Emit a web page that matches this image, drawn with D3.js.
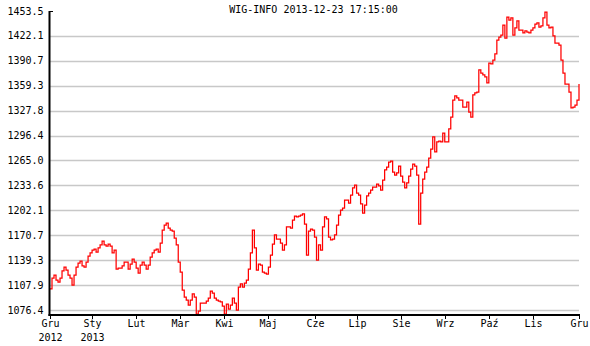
<!DOCTYPE html>
<html>
<head>
	<meta charset="utf-8">
	<title>WIG-INFO</title>
	<style>
		body { margin: 0; background: #fff; }
		text { font-family: "DejaVu Sans Mono", monospace; font-size: 10px; fill: #000; }
	</style>
	<script src="https://cdn.jsdelivr.net/npm/d3@7/dist/d3.min.js"></script>
</head>
<body>
	<script type="text/javascript">

		/************** data *****************/
		var title = "WIG-INFO 2013-12-23 17:15:00";

		// one value per trading day, Dec 2012 .. Dec 23 2013
		var closeValues = [
			1102.9,1116.7,1120.5,1114.2,1111.7,1116.7,1125.6,1130.6,1126.8,1120.5,
			1116.7,1107.9,1120.5,1130.6,1135.6,1138.2,1131.9,1130.6,1136.9,1144.5,
			1148.3,1152.0,1153.3,1149.5,1154.6,1158.4,1163.4,1158.4,1157.1,1159.6,
			1157.1,1148.3,1152.0,1128.1,1129.3,1129.3,1131.9,1136.9,1136.9,1128.1,
			1134.4,1140.7,1136.9,1129.3,1123.0,1133.1,1136.9,1133.1,1128.1,1133.1,
			1143.2,1148.3,1152.0,1153.3,1149.5,1160.9,1177.3,1183.6,1186.1,1179.8,
			1177.3,1176.0,1167.2,1158.4,1136.9,1124.3,1101.6,1092.8,1089.0,1082.7,
			1089.0,1096.6,1092.8,1071.3,1075.1,1085.2,1085.2,1085.2,1087.7,1091.5,
			1100.3,1097.8,1091.5,1089.0,1087.7,1086.5,1081.4,1071.3,1083.9,1077.6,
			1082.7,1091.5,1085.2,1076.4,1105.4,1109.2,1105.4,1110.4,1114.2,1128.1,
			1148.3,1177.3,1154.6,1126.8,1134.4,1133.1,1124.3,1123.0,1121.8,1130.6,
			1145.7,1159.6,1171.0,1165.9,1165.9,1160.9,1152.0,1158.4,1181.1,1181.1,
			1179.8,1189.9,1194.9,1193.7,1194.9,1196.2,1197.5,1184.8,1145.7,1176.0,
			1178.5,1177.3,1168.4,1139.4,1158.4,1152.0,1181.1,1193.7,1191.2,1168.4,
			1164.7,1165.9,1171.0,1183.6,1196.2,1202.5,1205.0,1215.1,1215.1,1211.3,
			1221.4,1230.3,1234.0,1223.9,1221.4,1210.1,1198.7,1208.8,1220.2,1223.9,
			1227.7,1231.5,1231.5,1235.3,1232.8,1227.7,1240.3,1253.0,1256.7,1263.0,
			1264.3,1250.4,1246.6,1249.2,1258.0,1245.4,1237.8,1230.3,1236.6,1245.4,
			1254.2,1260.5,1258.0,1246.6,1184.8,1223.9,1241.6,1250.4,1256.7,1268.1,
			1279.4,1294.6,1275.7,1288.3,1289.5,1288.3,1299.6,1288.3,1288.3,1304.7,
			1319.8,1341.2,1346.3,1343.8,1341.2,1341.2,1332.4,1332.4,1338.7,1326.1,
			1319.8,1347.6,1350.1,1351.3,1379.1,1375.3,1372.8,1370.3,1362.7,1387.9,
			1386.7,1391.7,1399.3,1416.9,1420.7,1423.2,1435.8,1419.4,1445.9,1442.1,
			1444.7,1423.2,1432.1,1440.9,1429.5,1429.5,1425.8,1428.3,1427.0,1425.8,
			1429.5,1432.1,1437.1,1438.4,1433.3,1434.6,1444.7,1452.2,1435.8,1432.1,
			1433.3,1422.0,1413.1,1413.1,1410.6,1391.7,1375.3,1361.4,1361.4,1351.3,
			1331.2,1332.4,1334.9,1341.2,1361.4
		];

		var yTickValues = [1076.4,1107.9,1139.3,1170.7,1202.1,1233.6,1265.0,1296.4,1327.8,1359.3,1390.7,1422.1,1453.5];
		var monthTickDays = [0,21,43,65,87,109,132,153,175,197,219,241,264];
		var monthLabels = ["Gru","Sty","Lut","Mar","Kwi","Maj","Cze","Lip","Sie","Wrz","Paź","Lis","Gru"];
		var yearLabels = ["2012","2013","","","","","","","","","","",""];

		/************** layout *****************/
		var width = 590, height = 346;
		var margin = {top: 11, right: 11, bottom: 31, left: 50};

		var svg = d3.select("body").append("svg")
			.attr("width", width)
			.attr("height", height);

		var x = d3.scaleLinear()
			.domain([0, closeValues.length - 1])
			.range([margin.left, width - margin.right]);

		var y = d3.scaleLinear()
			.domain([1070.1, 1453.5])
			.range([height - margin.bottom, margin.top]);

		// grid lines (not on the top value)
		svg.append("g").selectAll("line")
			.data(yTickValues.slice(0, -1))
			.enter().append("line")
			.attr("x1", margin.left)
			.attr("x2", width - margin.right)
			.attr("y1", function(d){ return Math.round(y(d)) + 0.5; })
			.attr("y2", function(d){ return Math.round(y(d)) + 0.5; })
			.attr("stroke", "#c8c8c8")
			.attr("stroke-width", 1.3);

		// y labels
		svg.append("g").selectAll("text")
			.data(yTickValues)
			.enter().append("text")
			.attr("x", 43.5)
			.attr("y", function(d){ return y(d); })
			.attr("dy", "0.35em")
			.attr("text-anchor", "end")
			.text(function(d){ return d.toFixed(1); });

		// the line
		var line = d3.line()
			.x(function(d, i){ return x(i); })
			.y(function(d){ return y(d); })
			.curve(d3.curveStepAfter);

		svg.append("path")
			.datum(closeValues)
			.attr("d", line)
			.attr("fill", "none")
			.attr("stroke", "#ff0000")
			.attr("stroke-width", 1.25);

		// axes
		var y0 = height - margin.bottom;
		svg.append("line")
			.attr("x1", margin.left - 0.5).attr("x2", margin.left - 0.5)
			.attr("y1", margin.top).attr("y2", y0 + 1)
			.attr("stroke", "#000").attr("stroke-width", 2);
		svg.append("line")
			.attr("x1", margin.left - 0.5).attr("x2", margin.left + 3)
			.attr("y1", margin.top + 0.5).attr("y2", margin.top + 0.5)
			.attr("stroke", "#000").attr("stroke-width", 1);
		svg.append("line")
			.attr("x1", margin.left - 1.5).attr("x2", width - margin.right + 1)
			.attr("y1", y0).attr("y2", y0)
			.attr("stroke", "#000").attr("stroke-width", 2);

		var ticks = svg.append("g").selectAll("g")
			.data(monthTickDays)
			.enter().append("g")
			.attr("transform", function(d){ return "translate(" + (Math.round(x(d)) + 0.5) + ",0)"; });
		ticks.append("line")
			.attr("y1", y0).attr("y2", y0 + 4)
			.attr("stroke", "#000").attr("stroke-width", 1);
		ticks.append("text")
			.attr("y", y0 + 12)
			.attr("text-anchor", "middle")
			.text(function(d, i){ return monthLabels[i]; });
		ticks.append("text")
			.attr("y", y0 + 26)
			.attr("text-anchor", "middle")
			.text(function(d, i){ return yearLabels[i]; });

		// title
		svg.append("text")
			.attr("x", 313.5)
			.attr("y", 13)
			.attr("text-anchor", "middle")
			.text(title);

	</script>
</body>
</html>
